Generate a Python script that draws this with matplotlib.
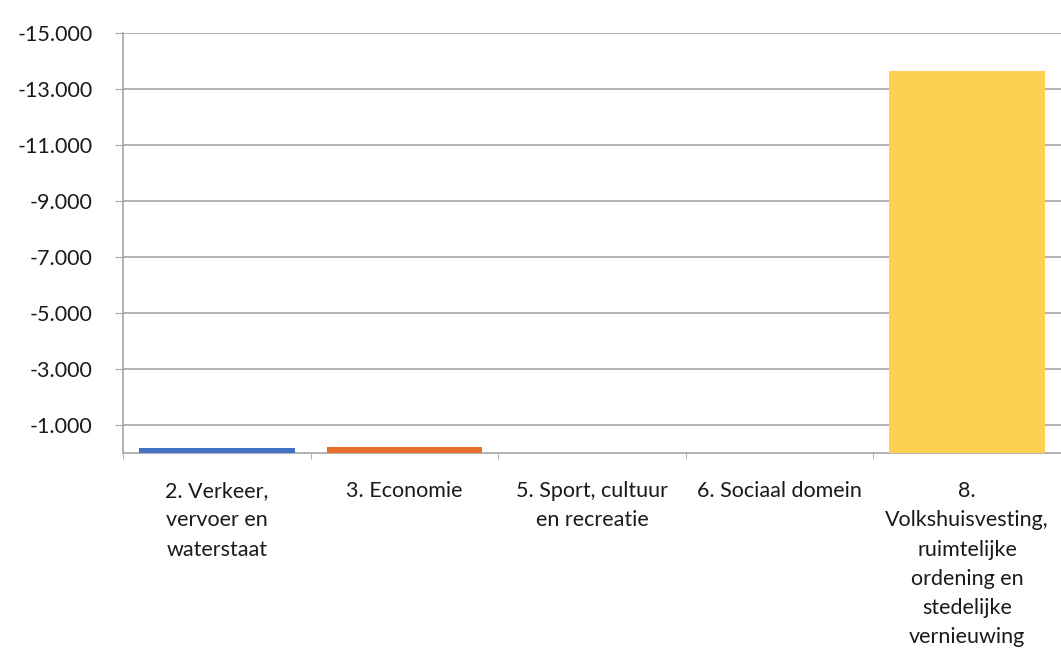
import numpy as np
import matplotlib.pyplot as plt
from matplotlib.ticker import FuncFormatter

categories = ['2. Verkeer,\nvervoer en\nwaterstaat', '3. Economie', '5. Sport, cultuur\nen recreatie',
              '6. Sociaal domein', '8.\nVolkshuisvesting,\nruimtelijke\nordening en\nstedelijke\nvernieuwing']
values = [-180, -210, 0, 0, -13650]
colors = ['#4472C4', '#E8702A', '#A5A5A5', '#FFC000', '#FCD052']
yticks = [-1000, -3000, -5000, -7000, -9000, -11000, -13000, -15000]

plt.rcParams['font.family'] = ['Lato', 'DejaVu Sans']

fig = plt.figure(figsize=(10.61, 6.55), dpi=100)
ax = fig.add_axes([0.116, 0.308, 0.884, 0.642])

x = np.arange(len(categories))
ax.bar(x, values, width=0.83, color=colors, zorder=3)

ax.set_xlim(-0.5, len(categories) - 0.5)
ax.set_ylim(0, -15000)
ax.set_yticks(yticks)
ax.yaxis.set_major_formatter(FuncFormatter(lambda v, p: '{:,.0f}'.format(v).replace(',', '.')))
ax.grid(axis='y', color='#A6A6A6', linewidth=1.2, zorder=0)

ax.set_xticks(x)
ax.set_xticklabels(categories, linespacing=1.58)
ax.set_xticks(np.arange(len(categories) + 1) - 0.5, minor=True)
ax.tick_params(axis='x', which='major', length=0, pad=20, labelsize=15.5, colors='#1a1a1a')
ax.tick_params(axis='x', which='minor', length=4, color='#A6A6A6')
ax.tick_params(axis='y', length=6, color='#A6A6A6', labelsize=15.5, labelcolor='#1a1a1a', pad=16)

for s in ['top', 'right']:
    ax.spines[s].set_visible(False)
ax.spines['left'].set_color('#A6A6A6')
ax.spines['bottom'].set_color('#A6A6A6')
ax.spines['left'].set_linewidth(1.2)
ax.spines['bottom'].set_linewidth(1.2)

fig.savefig('out.png', dpi=100)
